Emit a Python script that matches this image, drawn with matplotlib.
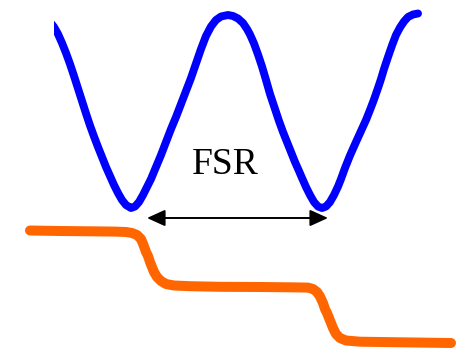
import matplotlib.pyplot as plt
from matplotlib.patches import Rectangle

# Transmission comb (blue) - positions, pixel units, y down
blue_x = [46, 50, 54, 58, 62, 66, 70, 74, 78, 82, 86, 90, 94, 98, 102, 106, 110, 114, 118, 122, 126, 131,
          135, 139, 143, 147, 151, 156, 161, 166, 171, 176, 181, 186, 191, 196, 201, 206, 211, 216, 221, 228,
          233, 238, 243, 247, 250, 254, 258, 262, 266, 270, 275, 279, 283, 287, 291, 295, 299, 302, 306, 310,
          314, 318, 322,
          326, 330, 334, 338, 341, 345, 350, 356, 361, 366, 370, 374, 378, 381, 384, 388, 392, 396, 400, 404,
          408, 413, 418]
blue_y = [19, 22, 27, 34, 43, 53, 64, 76, 88.5, 101, 113.5, 125.5, 136.5, 147, 157, 167, 176, 185, 193, 200, 205, 208,
          206.5, 202, 195, 187, 179, 167, 155, 142, 129, 117, 104, 91, 78, 63.5, 49, 36, 26.5, 20, 16.5, 15,
          16, 18.5, 23, 29, 34.5, 43.5, 54.5, 66.5, 80, 94, 109, 121, 132, 142, 152, 162, 171, 178, 187, 195,
          202, 206.5, 208,
          206.5, 202, 195, 186.5, 179, 168, 155.5, 142, 131, 120, 110, 99.5, 88, 79, 69, 57, 45.5, 35, 27.5, 21.5,
          17, 14.5, 13.5]

# Staircase (orange)
orange_x = [30, 60, 90, 115, 126, 132, 137, 141, 143.5, 146, 148, 150, 152, 154, 157, 161, 166, 174, 190,
            220, 260, 290, 308, 313, 317, 320, 323, 325, 327, 329, 331, 333, 336, 340, 346, 360, 400, 451]
orange_y = [230.5, 231, 231.3, 231.6, 232, 233, 235, 239, 245, 252, 256, 262, 267, 272, 277, 281, 284, 285.5,
            286.2, 286.8, 287, 287.3, 287.6, 289, 292, 296.5, 303, 309, 313, 318, 323, 328, 334, 338, 340.5,
            341.7, 342.3, 343]

# FSR arrow
arrow_x = [147, 328]
arrow_y = 218
label = 'FSR'

fig = plt.figure(figsize=(4.57, 3.48), dpi=100)
ax = fig.add_axes([0, 0, 1, 1])
ax.set_xlim(0, 457)
ax.set_ylim(348, 0)
ax.axis('off')

ax.plot(orange_x, orange_y, color='#ff6600', lw=7.2,
        solid_capstyle='round', solid_joinstyle='round')

line, = ax.plot(blue_x, blue_y, color='#0000ff', lw=5.7,
                solid_capstyle='round', solid_joinstyle='round')
# left end of the comb is cut off by a vertical edge
line.set_clip_path(Rectangle((54, 0), 403, 348, transform=ax.transData))

ax.annotate('', xy=(arrow_x[0], arrow_y), xytext=(arrow_x[1], arrow_y),
            arrowprops=dict(arrowstyle='<|-|>,head_length=1.1,head_width=0.5',
                            color='black', lw=1.4, shrinkA=0, shrinkB=0))

ax.text(225, 174.5, label, family='Liberation Serif', fontsize=27,
        ha='center', va='baseline')

fig.savefig('out.png', dpi=100)
